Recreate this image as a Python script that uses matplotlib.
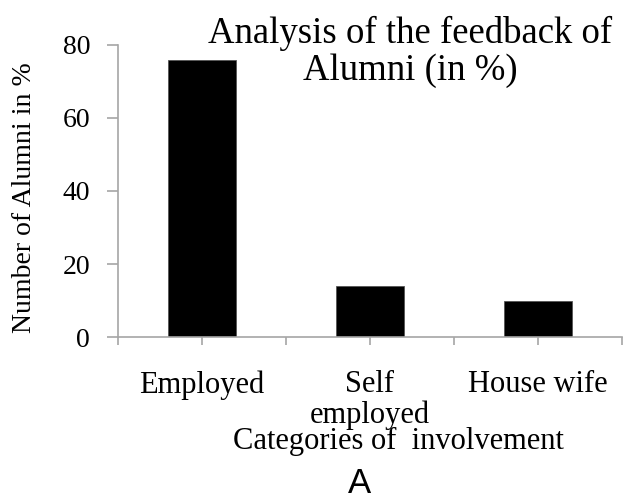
import matplotlib.pyplot as plt

# Data
categories = ['Employed', 'Self\nemployed', 'House wife']
alumni_pct = [76, 14, 10]

plt.rcParams['font.family'] = ['Liberation Serif', 'DejaVu Serif']

fig = plt.figure(figsize=(6.26, 5.01), dpi=100)
ax = fig.add_axes([0.1885, 0.3273, 0.805, 0.583])

x = range(len(categories))
ax.bar(x, alumni_pct, width=0.41, color='black', edgecolor='#555555', linewidth=0.6)

ax.set_xlim(-0.5, 2.5)
ax.set_ylim(0, 80)
ax.set_yticks([0, 20, 40, 60, 80])
ax.set_xticks(list(x))
ax.set_xticklabels(categories, linespacing=1.05)
ax.set_xticks([-0.5, 0.5, 1.5, 2.5], minor=True)

for side in ['top', 'right']:
    ax.spines[side].set_visible(False)
for side in ['left', 'bottom']:
    ax.spines[side].set_color('#a6a6a6')
    ax.spines[side].set_linewidth(1.2)

ax.tick_params(axis='y', length=8, width=1.2, color='#a6a6a6', pad=12, labelsize=20)
ax.tick_params(axis='x', which='both', length=6, width=1.2, color='#a6a6a6')
ax.tick_params(axis='x', which='major', pad=18, labelsize=22)

ax.set_ylabel('Number of Alumni in %', fontsize=20)
ax.yaxis.set_label_coords(-81 / 504, 0.478)

fig.text(410 / 626, 1 - 16 / 501, 'Analysis of the feedback of\nAlumni (in %)',
         ha='center', va='top', fontsize=26.5, linespacing=1.1)
fig.text(398 / 626, 1 - 449 / 501, 'Categories of  involvement',
         ha='center', va='baseline', fontsize=22)
fig.text(359 / 626, 1 / 501, 'A', ha='center', va='bottom',
         fontsize=25, family='Liberation Sans')

plt.savefig('out.png', dpi=100)
